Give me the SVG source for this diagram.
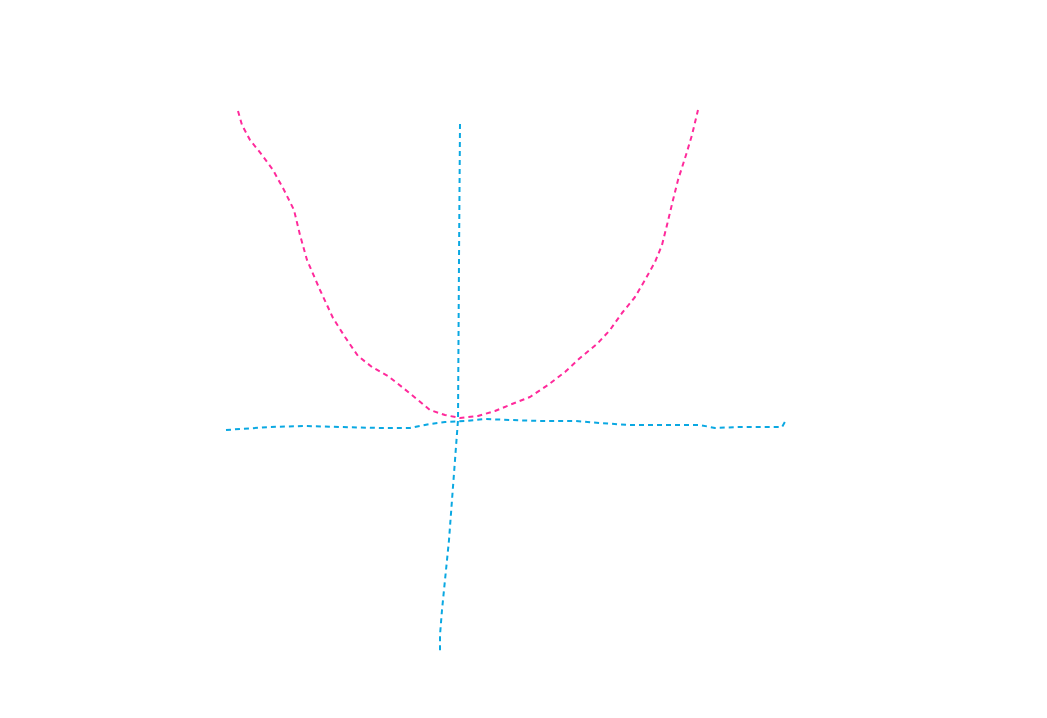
<svg xmlns="http://www.w3.org/2000/svg" width="1047" height="718" viewBox="0 0 1047 718">
<style>
.c{fill:none;stroke-width:2;stroke-dasharray:5 4;stroke-linecap:butt;stroke-linejoin:round}
.pink{stroke:#ff2a9b}
.blue{stroke:#0aa8e2}
</style>
<rect width="1047" height="718" fill="#ffffff"/>
<g id="connectors">
<path id="parabola" class="c pink" d="M238,111 L242,125 L250,140 L262,155 L273,170 L284,190 L294,210 L300,235 L307,260 L320,290 L333,318 L345,337 L358,356 L372,367 L388,376 L402,387 L418,400 L430,410 L445,415 L460,418 L478,416 L495,411 L512,404 L530,397 L548,385 L565,372 L580,358 L597,344 L610,330 L622,313 L635,297 L645,280 L655,262 L662,245 L667,225 L673,200 L678,180 L686,155 L692,135 L698,110"/>
<path id="y-axis" class="c blue" d="M460,124 L459,260 L458,420 L455,460 L452,500 L449,540 L445,580 L442,610 L440,635 L440,653"/>
<path id="x-axis" class="c blue" d="M226,430 L240,429 L270,427 L305,426 L340,427 L380,428 L410,428 L430,424 L445,422 L465,421 L485,419 L510,420 L540,421 L575,421 L600,423 L630,425 L670,425 L700,425 L715,428 L740,427 L770,427 L782,427 L786,420"/>
</g>
</svg>
